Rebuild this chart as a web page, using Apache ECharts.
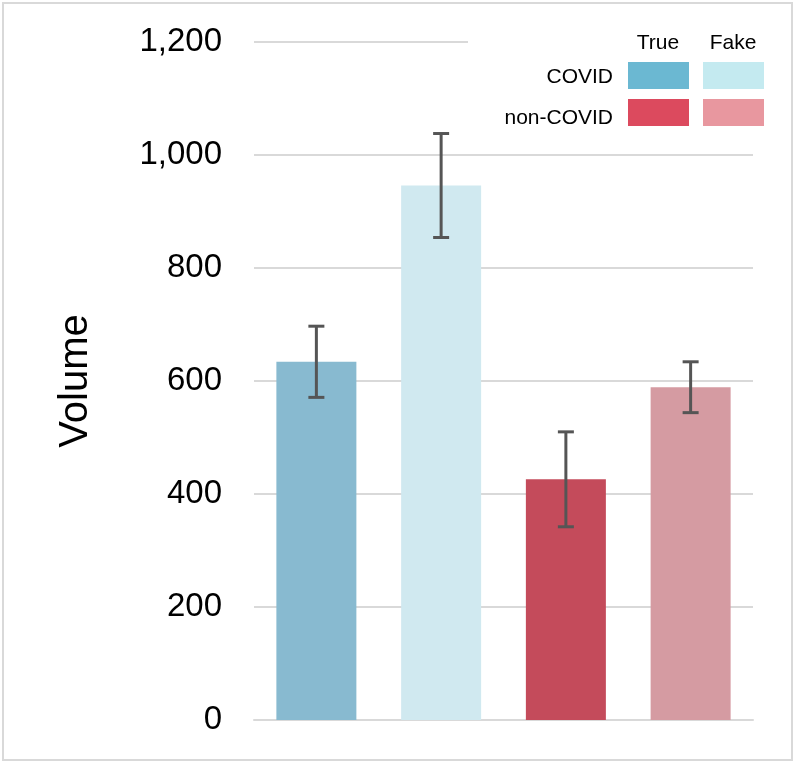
<!DOCTYPE html>
<html>
<head>
<meta charset="utf-8">
<script src="https://cdn.jsdelivr.net/npm/echarts@6/dist/echarts.min.js"></script>
<style>
  html, body { margin: 0; padding: 0; background: #fff; }
  #chart { width: 796px; height: 764px; }
</style>
</head>
<body>
<div id="chart"></div>
<script>
// data
var categories = ['COVID True', 'COVID Fake', 'non-COVID True', 'non-COVID Fake'];
var volumes = [634, 946, 426, 589];
var errors = [63, 92, 84, 45];
var barColors = ['#88bad0', '#d0e9f0', '#c44b5b', '#d59ba2'];

var legendCols = ['True', 'Fake'];
var legendRows = ['COVID', 'non-COVID'];
var legendColors = [['#6bb8d2', '#c4eaf0'], ['#dc4a5e', '#e8979f']];

var FONT = '"Liberation Sans", Arial, sans-serif';

var chart = echarts.init(document.getElementById('chart'));

function buildLegend() {
    var els = [];
    // white patch hides the right part of the top gridline, like the original
    els.push({ type: 'rect', left: 468, top: 22, z: 10,
        shape: { width: 300, height: 112 }, style: { fill: '#fff' } });
    var colX = [628, 703];
    var rowY = [62, 99];
    var labelY = [77, 118];
    legendCols.forEach(function (c, j) {
        els.push({ type: 'text', x: colX[j] + 30, y: 43, z: 11,
            style: { text: c, fill: '#000', font: '21px ' + FONT,
                textAlign: 'center', textVerticalAlign: 'middle' } });
    });
    legendRows.forEach(function (r, i) {
        els.push({ type: 'text', x: 613, y: labelY[i], z: 11,
            style: { text: r, fill: '#000', font: '21px ' + FONT,
                textAlign: 'right', textVerticalAlign: 'middle' } });
        legendCols.forEach(function (c, j) {
            els.push({ type: 'rect', x: colX[j], y: rowY[i], z: 11,
                shape: { width: 61, height: 27 }, style: { fill: legendColors[i][j] } });
        });
    });
    // outer frame
    els.push({ type: 'rect', x: 3, y: 3, z: 12, silent: true,
        shape: { width: 789, height: 757 }, style: { fill: 'none', stroke: '#d9d9d9', lineWidth: 2 } });
    return els;
}

var option = {
    backgroundColor: '#fff',
    animation: false,
    grid: { left: 254, right: 43, top: 42, bottom: 44 },
    xAxis: {
        type: 'category',
        data: categories,
        axisLabel: { show: false },
        axisTick: { show: false },
        axisLine: { lineStyle: { color: '#d9d9d9', width: 2 } }
    },
    yAxis: {
        type: 'value',
        min: 0,
        max: 1200,
        interval: 200,
        name: 'Volume',
        nameLocation: 'middle',
        nameRotate: 90,
        nameGap: 158,
        nameTextStyle: { fontSize: 40, color: '#000', fontFamily: FONT },
        axisLabel: {
            fontSize: 33,
            color: '#000',
            margin: 32,
            fontFamily: FONT,
            formatter: function (v) { return v.toLocaleString('en-US'); }
        },
        axisLine: { show: false },
        axisTick: { show: false },
        splitLine: { lineStyle: { color: '#d9d9d9', width: 2 } }
    },
    series: [
        {
            type: 'bar',
            data: volumes,
            barWidth: 80,
            itemStyle: {
                color: function (p) { return barColors[p.dataIndex]; }
            }
        },
        {
            type: 'custom',
            z: 5,
            data: volumes.map(function (v, i) { return [i, v - errors[i], v + errors[i]]; }),
            renderItem: function (params, api) {
                var lo = api.coord([api.value(0), api.value(1)]);
                var hi = api.coord([api.value(0), api.value(2)]);
                var half = 8;
                var st = { stroke: '#555', lineWidth: 3 };
                return {
                    type: 'group',
                    children: [
                        { type: 'line', shape: { x1: hi[0], y1: hi[1], x2: lo[0], y2: lo[1] }, style: st },
                        { type: 'line', shape: { x1: hi[0] - half, y1: hi[1], x2: hi[0] + half, y2: hi[1] }, style: st },
                        { type: 'line', shape: { x1: lo[0] - half, y1: lo[1], x2: lo[0] + half, y2: lo[1] }, style: st }
                    ]
                };
            }
        }
    ],
    graphic: buildLegend()
};

chart.setOption(option);
</script>
</body>
</html>
